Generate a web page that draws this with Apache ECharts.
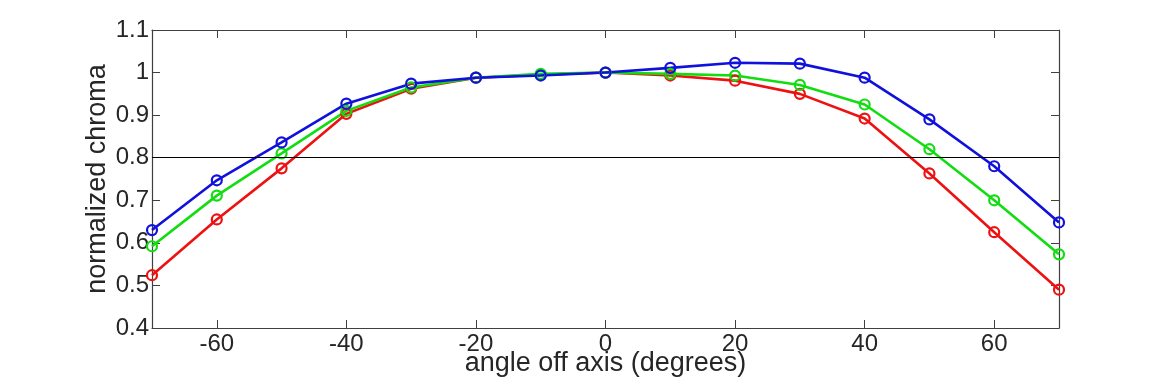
<!DOCTYPE html>
<html>
<head>
<meta charset="utf-8">
<script src="https://cdn.jsdelivr.net/npm/echarts@6/dist/echarts.min.js"></script>
<style>html,body{margin:0;padding:0;background:#fff}#c{width:1170px;height:390px}</style>
</head>
<body>
<div id="c"></div>
<script>
const angles = [-70,-60,-50,-40,-30,-20,-10,0,10,20,30,40,50,60,70];
const redValues   = [0.524,0.655,0.775,0.903,0.962,0.988,0.995,1.0,0.993,0.981,0.950,0.892,0.763,0.625,0.490];
const greenValues = [0.592,0.711,0.810,0.910,0.965,0.988,0.997,1.0,0.997,0.993,0.971,0.925,0.820,0.700,0.573];
const blueValues  = [0.630,0.747,0.836,0.927,0.974,0.988,0.993,1.0,1.011,1.023,1.021,0.988,0.890,0.780,0.648];
const xTicks = [-60,-40,-20,0,20,40,60];
const yTicks = [0.4,0.5,0.6,0.7,0.8,0.9,1,1.1];
const refLine = 0.8;

const axisColor = '#404040';
const textColor = '#262626';
const font = 'Liberation Sans, Arial, sans-serif';

function pts(vals){ return angles.map((a,i)=>[a, vals[i]]); }
function mkSeries(name, vals, color, extra){
  return Object.assign({
    name, type:'line', data: pts(vals),
    symbol:'circle', symbolSize:10, showSymbol:true,
    lineStyle:{color, width:2.6},
    itemStyle:{color:'rgba(255,255,255,0)', borderColor:color, borderWidth:2.2},
    emphasis:{disabled:true}, animation:false, z:3
  }, extra||{});
}

const chart = echarts.init(document.getElementById('c'));
chart.setOption({
  animation:false,
  grid:{left:152, right:111, top:30, bottom:62, containLabel:false},
  xAxis:[{
    type:'value', min:-70, max:70, position:'bottom',
    axisLine:{show:true, onZero:false, lineStyle:{color:axisColor, width:1.2}},
    axisTick:{show:true, inside:true, length:8, customValues:xTicks, lineStyle:{color:axisColor}},
    axisLabel:{show:true, customValues:xTicks, color:textColor, fontSize:24, fontFamily:font, margin:4},
    splitLine:{show:false},
    name:'angle off axis (degrees)', nameLocation:'middle', nameGap:22, nameMoveOverlap:false,
    nameTextStyle:{color:textColor, fontSize:27, fontFamily:font}
  },{
    type:'value', min:-70, max:70, position:'top',
    axisLine:{show:true, onZero:false, lineStyle:{color:axisColor, width:1.2}},
    axisTick:{show:true, inside:true, length:8, customValues:xTicks, lineStyle:{color:axisColor}},
    axisLabel:{show:false}, splitLine:{show:false}
  }],
  yAxis:[{
    type:'value', min:0.4, max:1.1, position:'left',
    axisLine:{show:true, onZero:false, lineStyle:{color:axisColor, width:1.2}},
    axisTick:{show:true, inside:true, length:8, customValues:yTicks, lineStyle:{color:axisColor}},
    axisLabel:{show:true, customValues:yTicks, color:textColor, fontSize:24, fontFamily:font, margin:3,
      formatter:v=>String(Math.round(v*10)/10)},
    splitLine:{show:false},
    name:'normalized chroma', nameLocation:'middle', nameGap:41, nameMoveOverlap:false,
    nameTextStyle:{color:textColor, fontSize:27, fontFamily:font}
  },{
    type:'value', min:0.4, max:1.1, position:'right',
    axisLine:{show:true, onZero:false, lineStyle:{color:axisColor, width:1.2}},
    axisTick:{show:true, inside:true, length:8, customValues:yTicks, lineStyle:{color:axisColor}},
    axisLabel:{show:false}, splitLine:{show:false}
  }],
  series:[
    mkSeries('red', redValues, '#ee1111', {
      markLine:{silent:true, symbol:'none', label:{show:false},
        lineStyle:{color:'#000000', width:1.2, type:'solid'},
        data:[{yAxis:refLine}], animation:false}
    }),
    mkSeries('green', greenValues, '#11dd11'),
    mkSeries('blue', blueValues, '#1111dd')
  ]
});
</script>
</body>
</html>
